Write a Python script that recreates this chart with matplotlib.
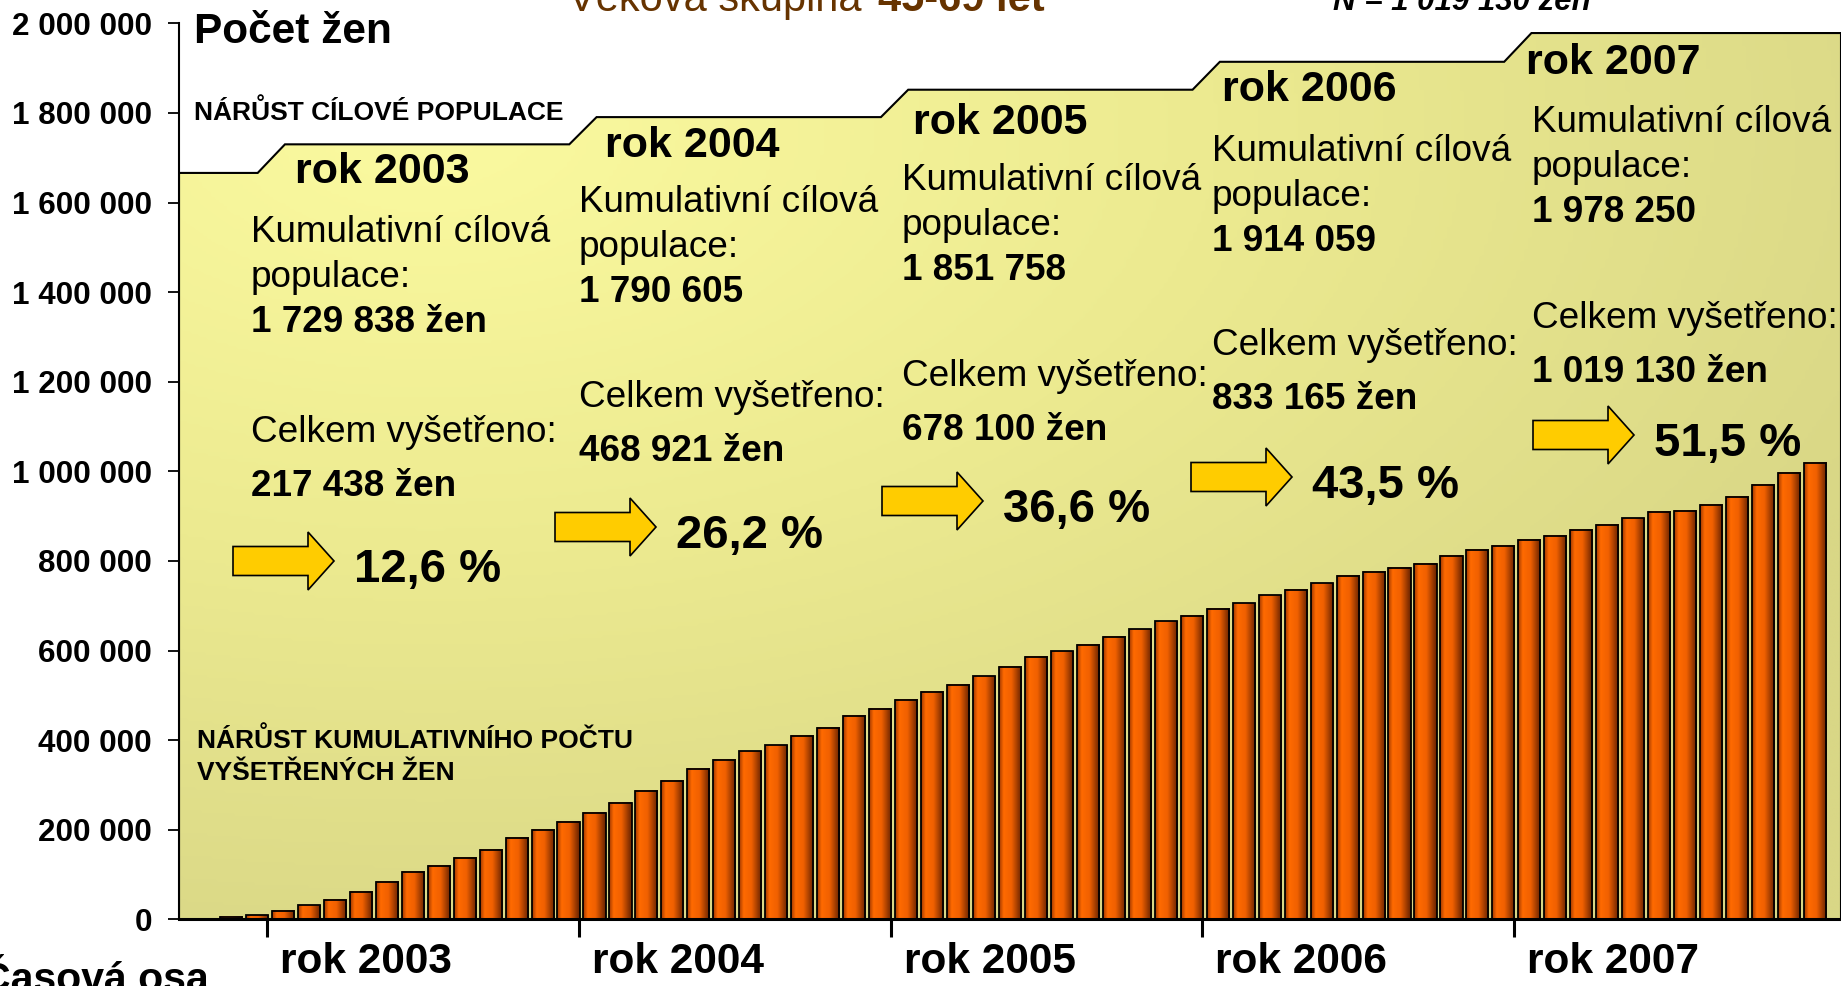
import numpy as np
import matplotlib.pyplot as plt
from matplotlib.colors import LinearSegmentedColormap
from matplotlib.patches import Polygon

plt.rcParams['font.family'] = ['Liberation Sans', 'DejaVu Sans']

# cumulative number of screened women, monthly from Nov 2002 to Dec 2007
screened = [4500, 8900, 17900, 31000, 44000, 62000, 83000, 106000, 119000, 137000,
            155000, 181000, 199000, 217438,
            238000, 260000, 286000, 309000, 335000, 356000, 375000, 388000, 409000,
            428000, 454000, 468921,
            489000, 507000, 524000, 542000, 564000, 586000, 598000, 612000, 630000,
            647000, 665000, 678100,
            692000, 705000, 723000, 736000, 750000, 767000, 776000, 785000, 794000,
            811000, 824000, 833165,
            847000, 856000, 869000, 881000, 895000, 909000, 912000, 925000, 943000,
            970000, 996000, 1019130]

years = [2003, 2004, 2005, 2006, 2007]
target_start = 1666000  # level before 2003
target_pop = [1729838, 1790605, 1851758, 1914059, 1978250]
screened_total = [217438, 468921, 678100, 833165, 1019130]
coverage = ['12,6 %', '26,2 %', '36,6 %', '43,5 %', '51,5 %']
target_suffix = [' žen', '', '', '', '']

W, H = 1841, 986


def px(x, y):
    # pixel position (from top-left) -> figure fraction
    return x / W, 1 - y / H


def fmt(v):
    return f"{v:,}".replace(',', ' ')


fig = plt.figure(figsize=(W / 100, H / 100), dpi=100)
ax = fig.add_axes([179 / W, (H - 919.3) / H, (W - 179) / W, (919.3 - 23.3) / H])
ax.set_facecolor('none')

xl, xr = -2.0, 62.0
x = np.arange(len(screened))
ticks = [2 + 12 * i - 0.6 for i in range(len(years))]

# stepped "target population" background
verts = [(xl, 0), (xl, target_start)]
prev = target_start
for t, lev in zip(ticks, target_pop):
    verts += [(t - 0.37, prev), (t + 0.68, lev)]
    prev = lev
verts += [(xr, prev), (xr, 0)]
poly = Polygon(verts, closed=True, facecolor='none', edgecolor='black', lw=1.5, zorder=2)
ax.add_patch(poly)

gx, gy = np.meshgrid(np.linspace(0, 1, 400), np.linspace(0, 1, 300))
tt = np.clip(np.hypot((gx - 0.15) / 0.95, (gy - 0.12) / 0.95), 0, 1)
bg_cmap = LinearSegmentedColormap.from_list('bg', ['#FBFAA0', '#ECEA90', '#D9D786'])
img = ax.imshow(tt, extent=(xl, xr, 0, 2000000), cmap=bg_cmap, vmin=0, vmax=1,
                aspect='auto', origin='upper', zorder=1, interpolation='bilinear')
img.set_clip_path(poly)

# bars with a shaded fill
bar_cmap = LinearSegmentedColormap.from_list(
    'bar', [(0, '#A03800'), (0.2, '#FF6A00'), (0.55, '#F06000'), (1.0, '#652200')])
grad = np.linspace(0, 1, 64).reshape(1, -1)
bw = 0.85
for xi, h in zip(x, screened):
    ax.imshow(grad, extent=(xi - bw / 2, xi + bw / 2, 0, h), cmap=bar_cmap,
              aspect='auto', zorder=3, interpolation='bilinear')
ax.bar(x, screened, width=bw, facecolor='none', edgecolor='black', lw=1.3, zorder=4)

ax.set_xlim(xl, xr)
ax.set_ylim(0, 2000000)

yt = list(range(0, 2000001, 200000))
ax.set_yticks(yt)
ax.set_yticklabels([fmt(v) for v in yt], fontsize=22.6, fontweight='bold')
ax.tick_params(axis='y', direction='out', length=8, width=1.3, pad=11.5)
ax.set_xticks(ticks)
ax.tick_params(axis='x', direction='out', length=13, width=2.2, labelbottom=False)
for s in ['top', 'right']:
    ax.spines[s].set_visible(False)
ax.spines['left'].set_linewidth(1.5)
ax.spines['bottom'].set_linewidth(2.2)
ax.spines['bottom'].set_zorder(5)

for t, yr in zip(ticks, years):
    ax.text(t + 0.5, -0.06, f'rok {yr}', transform=ax.get_xaxis_transform(),
            fontsize=30.5, fontweight='bold', va='baseline', ha='left')

# titles and labels
fig.text(*px(568, 11), 'Věková skupina', color='#663300', fontsize=30, va='baseline')
fig.text(*px(1045, 11), '45-69 let', color='#663300', fontsize=30, fontweight='bold',
         va='baseline', ha='right')
fig.text(*px(1333, 10), 'N = 1 019 130 žen', fontsize=22.5, fontweight='bold',
         fontstyle='italic', va='baseline')
fig.text(*px(194, 43), 'Počet žen', fontsize=30.5, fontweight='bold', va='baseline')
fig.text(*px(194, 120), 'NÁRŮST CÍLOVÉ POPULACE', fontsize=19, fontweight='bold',
         va='baseline')
fig.text(*px(197, 748), 'NÁRŮST KUMULATIVNÍHO POČTU', fontsize=19, fontweight='bold',
         va='baseline')
fig.text(*px(197, 780), 'VYŠETŘENÝCH ŽEN', fontsize=19, fontweight='bold',
         va='baseline')
fig.text(*px(-19, 991), 'Časová osa', fontsize=29.5, fontweight='bold', va='baseline')

# yearly annotation blocks (layout in pixels)
blocks = [
    (295, 183, 251, 242, 442, 233, 561),
    (605, 157, 579, 212, 407, 555, 527),
    (913, 134, 902, 190, 386, 882, 501),
    (1222, 101, 1212, 161, 355, 1191, 477),
    (1526, 74, 1532, 132, 328, 1533, 435),
]
for i, (rx, ry, kx, ky, cy, axx, acy) in enumerate(blocks):
    fig.text(*px(rx, ry), f'rok {years[i]}', fontsize=31, fontweight='bold', va='baseline')
    fig.text(*px(kx, ky), 'Kumulativní cílová', fontsize=26.6, va='baseline')
    fig.text(*px(kx, ky + 45), 'populace:', fontsize=26.6, va='baseline')
    fig.text(*px(kx, ky + 90), fmt(target_pop[i]) + target_suffix[i], fontsize=26.6,
             fontweight='bold', va='baseline')
    fig.text(*px(kx, cy), 'Celkem vyšetřeno:', fontsize=26.6, va='baseline')
    fig.text(*px(kx, cy + 54), fmt(screened_total[i]) + ' žen', fontsize=26.6,
             fontweight='bold', va='baseline')
    shape = [(0, -14.5), (75, -14.5), (75, -29), (101, 0), (75, 29), (75, 14.5), (0, 14.5)]
    pts = [px(axx + dx, acy + dy) for dx, dy in shape]
    fig.add_artist(Polygon(pts, closed=True, transform=fig.transFigure,
                           facecolor='#FFCC00', edgecolor='black', lw=1.2))
    fig.text(*px(axx + 121, acy + 21), coverage[i], fontsize=34, fontweight='bold',
             va='baseline')

fig.savefig('out.png', dpi=100)
